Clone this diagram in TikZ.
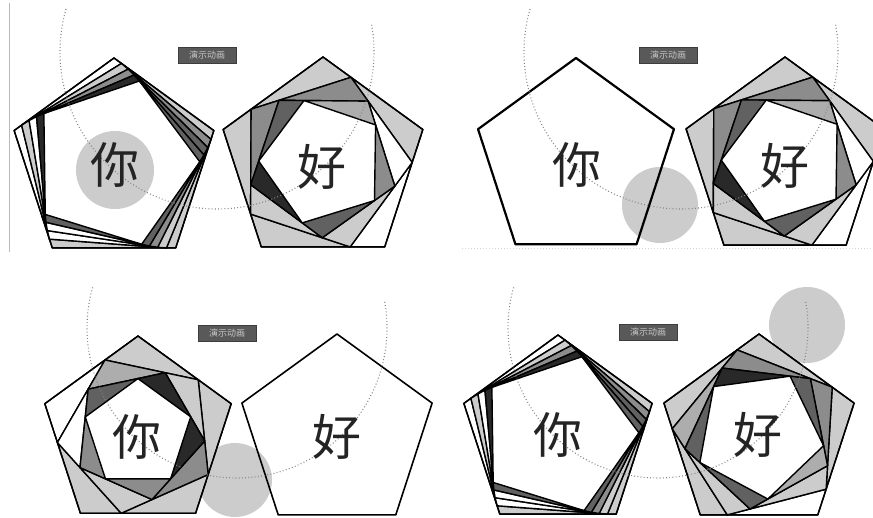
\documentclass[tikz,border=0pt]{standalone}
\usepackage{fontspec}
\newfontfamily\cjk{Noto Sans CJK SC}
\usetikzlibrary{calc}
\definecolor{cW}{gray}{1}
\definecolor{cL}{gray}{0.80}
\definecolor{cLL}{gray}{0.68}
\definecolor{cM}{gray}{0.55}
\definecolor{cD}{gray}{0.38}
\definecolor{cK}{gray}{0.16}
\definecolor{ballc}{gray}{0.80}
\definecolor{pathc}{gray}{0.52}
\definecolor{glyphc}{gray}{0.14}
\definecolor{btnfill}{gray}{0.35}
\definecolor{btnline}{gray}{0.24}
\definecolor{btntext}{gray}{0.78}
\tikzset{
  edge/.style={draw=black, line width=1.4pt, line join=round},
  plainedge/.style={draw=black, line width=1.6pt, line join=round},
  ball/.style={fill=ballc},
  orbit/.style={draw=pathc, line width=1.1pt, dash pattern=on 0.9pt off 2.3pt},
  glyph/.style={font=\cjk\fontsize{49}{49}\selectfont, inner sep=0pt, text=glyphc},
  demo/.style={fill=btnfill, draw=btnline, line width=0.6pt,
    minimum width=58pt, minimum height=16pt, inner sep=0pt,
    text=btntext, font=\cjk\fontsize{9}{9}\selectfont},
}
% outer pentagon vertices: name, cx, cy, R, dir (1 = clockwise on screen)
\newcommand\pentpts[5]{%
  \foreach \i in {0,...,4}{\coordinate (#1-0-\i) at ({#2+#4*cos(-90+#5*72*\i)},{#3+#4*sin(-90+#5*72*\i)});}}
% nested inscribed pentagons: name, t, layer list k/c1/c2/c3/c4/c0
\newcommand\iris[3]{%
  \foreach \k/\ca/\cb/\cc/\cd/\ce in {#3}{%
    \pgfmathtruncatemacro\pk{\k-1}%
    \foreach \i in {0,...,4}{%
      \pgfmathtruncatemacro\jj{mod(\i+1,5)}%
      \coordinate (#1-\k-\i) at ($(#1-\pk-\i)!#2!(#1-\pk-\jj)$);}%
    \foreach \i/\col in {0/\ca,1/\cb,2/\cc,3/\cd,4/\ce}{%
      \pgfmathtruncatemacro\jj{mod(\i+1,5)}%
      \filldraw[edge, fill=\col] (#1-\pk-\jj) -- (#1-\k-\jj) -- (#1-\k-\i) -- cycle;}%
  }%
  \draw[edge] (#1-0-0) -- (#1-0-1) -- (#1-0-2) -- (#1-0-3) -- (#1-0-4) -- cycle;}
\begin{document}
\begin{tikzpicture}[x=1pt,y=-1pt]
\useasboundingbox[fill=white] (0,0) rectangle (873,518);
% separator and baseline
\coordinate (sepT) at (9,3); \coordinate (sepB) at (9,252);
\draw[gray!55, line width=0.8pt] (sepT) -- (sepB);
\coordinate (hlA) at (462,248); \coordinate (hlB) at (873,248);
\draw[gray!35, line width=0.8pt, dash pattern=on 1pt off 2pt] (hlA) -- (hlB);
% balls
\fill[ball] (115,170) circle[radius=39];
\fill[ball] (660,205) circle[radius=38];
\fill[ball] (235,480) circle[radius=37];
\fill[ball] (807,325) circle[radius=38];
% panel 1
\pentpts{a}{114}{163}{105}{1}
\iris{a}{0.075}{1/cL/cL/cL/cW/cW, 2/cM/cL/cW/cL/cL, 3/cD/cM/cW/cW/cM, 4/cD/cD/cD/cK/cK}
\pentpts{b}{323}{162}{105}{1}
\iris{b}{0.28}{1/cL/cW/cL/cL/cL, 2/cW/cL/cL/cM/cM, 3/cM/cD/cK/cD/cLL}
% panel 2
\pentpts{c}{576}{161}{103}{1}
\draw[plainedge, line width=2.2pt] (c-0-0) -- (c-0-1) -- (c-0-2) -- (c-0-3) -- (c-0-4) -- cycle;
\pentpts{d}{785}{161}{104}{1}
\iris{d}{0.28}{1/cL/cW/cL/cL/cL, 2/cW/cL/cL/cM/cM, 3/cM/cD/cK/cD/cLL}
% panel 3
\pentpts{e}{138}{434}{98}{-1}
\iris{e}{0.354}{1/cW/cL/cL/cL/cL, 2/cW/cL/cM/cL/cLL, 3/cM/cM/cK/cK/cD}
\pentpts{f}{337}{434}{100}{1}
\draw[plainedge] (f-0-0) -- (f-0-1) -- (f-0-2) -- (f-0-3) -- (f-0-4) -- cycle;
% panel 4
\pentpts{g}{558}{434}{99}{1}
\iris{g}{0.075}{1/cL/cL/cL/cW/cW, 2/cM/cL/cW/cL/cL, 3/cD/cM/cW/cW/cM, 4/cD/cD/cD/cK/cK}
\pentpts{h}{759}{434}{100}{-1}
\iris{h}{0.23}{1/cL/cL/cW/cL/cL, 2/cLL/cL/cL/cM/cM, 3/cD/cD/cLL/cD/cK}
% orbits
\draw[orbit] plot[domain=-10:196.5, samples=120] ({217+157*cos(\x)},{52+157*sin(\x)});
\draw[orbit] plot[domain=-10:196.5, samples=120] ({681+157*cos(\x)},{52+157*sin(\x)});
\draw[orbit] plot[domain=-10:196, samples=120] ({237+150*cos(\x)},{328+150*sin(\x)});
\draw[orbit] plot[domain=-10:196, samples=120] ({658+150*cos(\x)},{328+150*sin(\x)});
% glyphs
\node[glyph] (n1) at (115,165) {你};
\node[glyph] (h1) at (322,167) {好};
\node[glyph] (n2) at (577,165) {你};
\node[glyph] (h2) at (785,166) {好};
\node[glyph] (n3) at (137,437) {你};
\node[glyph] (h3) at (337,437) {好};
\node[glyph] (n4) at (558,435) {你};
\node[glyph] (h4) at (758,435) {好};
% demo buttons
\node[demo] (b1) at (207,55) {演示动画};
\node[demo] (b2) at (668,55) {演示动画};
\node[demo] (b3) at (227,333) {演示动画};
\node[demo] (b4) at (648,332) {演示动画};
\end{tikzpicture}
\end{document}
